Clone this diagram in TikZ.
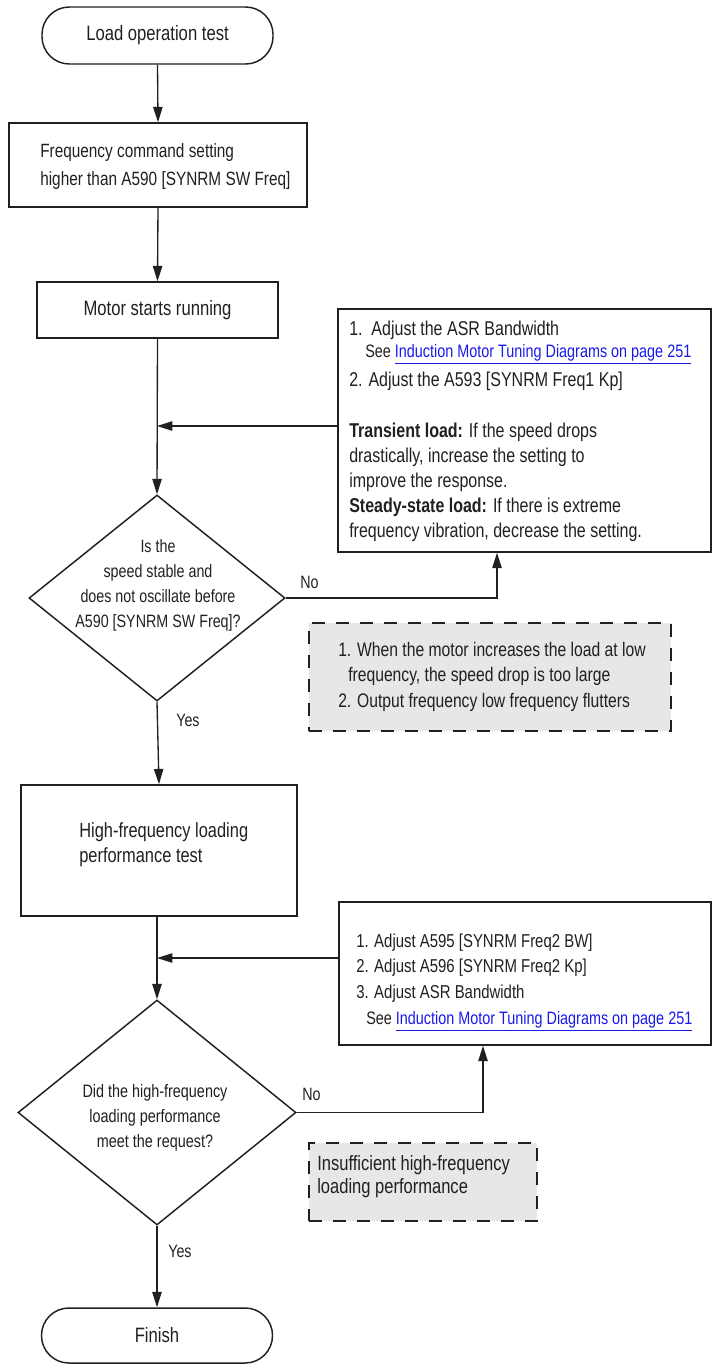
\documentclass[tikz,border=0pt]{standalone}
\usepackage{fontspec}
\setmainfont[FakeStretch=0.8]{Liberation Sans}
\usetikzlibrary{arrows.meta,shapes.geometric}
\definecolor{ink}{HTML}{231F20}
\definecolor{linkblue}{RGB}{25,25,235}
\definecolor{notegray}{HTML}{E6E7E8}
\newcommand\lnk[1]{\textcolor{linkblue}{\underline{#1}}}
\newcommand\tstrut{\rule{0pt}{12pt}}
\begin{document}
\begin{tikzpicture}[x=0.75pt,y=-0.75pt,
  base/.style={draw=ink, line width=1.1pt, inner sep=0pt, text=ink},
  term/.style={base, rectangle, rounded corners=20.5pt, font=\fontsize{15.6}{18}\selectfont},
  proc/.style={base, rectangle, font=\fontsize{15.6}{18}\selectfont},
  decision/.style={base, diamond},
  note/.style={draw=ink, fill=notegray, line width=1.1pt, dash pattern=on 10pt off 8pt, inner sep=0pt},
  txt/.style={inner sep=0pt, anchor=north west, align=left, text=ink, font=\fontsize{15}{18.75}\selectfont},
  ctxt/.style={txt, anchor=north, align=center, font=\fontsize{13.4}{18.75}\selectfont},
  small/.style={inner sep=0pt, anchor=north west, text=ink, font=\fontsize{13.5}{15}\selectfont},
  lbl/.style={inner sep=0pt, anchor=base west, text=ink, font=\fontsize{13.4}{16}\selectfont},
  conn/.style={draw=ink, line width=1pt},
  arr/.style={conn, -{Triangle[length=11.5pt,width=7pt]}},
]
\useasboundingbox (0,0) rectangle (713,1365);

% shapes
\node[term, minimum width=173.25pt, minimum height=42.75pt] (start) at (157.5,35.5) {Load operation test};
\node[proc, minimum width=223.5pt, minimum height=63pt] (freq) at (158,165) {};
\node[proc, minimum width=180.75pt, minimum height=42pt] (motor) at (157.5,310) {Motor starts running};
\node[proc, minimum width=279.75pt, minimum height=182.25pt] (adj1) at (524.5,430.5) {};
\node[decision, minimum width=192pt, minimum height=154.5pt] (dec1) at (157,598) {};
\node[note, minimum width=271.5pt, minimum height=81pt] (note1) at (490,677) {};
\node[proc, minimum width=207pt, minimum height=98.25pt] (hf) at (159,850.5) {};
\node[proc, minimum width=279pt, minimum height=107.25pt] (adj2) at (525,973.5) {};
\node[decision, minimum width=208.5pt, minimum height=168.75pt] (dec2) at (157,1112.5) {};
\node[note, minimum width=171pt, minimum height=58.5pt] (note2) at (423,1182) {};
\node[term, minimum width=173.25pt, minimum height=41.25pt] (finish) at (157,1335.5) {Finish};

% texts
\node[txt, font=\fontsize{14.4}{21}\selectfont] (freqtext) at (40,141) {\tstrut Frequency command setting\\higher than A590 [SYNRM SW Freq]};
\node[txt] (adj1a) at (349,319) {\tstrut 1.\ \ Adjust the ASR Bandwidth};
\node[small] (adj1b) at (365,341) {\tstrut See \lnk{Induction Motor Tuning Diagrams on page 251}};
\node[txt] (adj1c) at (349,370) {\tstrut 2. Adjust the A593 [SYNRM Freq1 Kp]};
\node[txt] (adj1d) at (349,421) {\tstrut\textbf{Transient load:} If the speed drops\\drastically, increase the setting to\\improve the response.\\\textbf{Steady-state load:} If there is extreme\\frequency vibration, decrease the setting.};
\node[ctxt] (dec1text) at (158,536) {\tstrut Is the\\speed stable and\\does not oscillate before\\A590 [SYNRM SW Freq]?};
\node[txt, font=\fontsize{14.7}{19.1}\selectfont] (note1text) at (338,640) {\tstrut 1. When the motor increases the load at low\\\hspace*{7.5pt}frequency, the speed drop is too large\\2. Output frequency low frequency flutters};
\node[txt, font=\fontsize{15.4}{18.75}\selectfont] (hftext) at (79,821) {\tstrut High-frequency loading\\performance test};
\node[txt, font=\fontsize{14}{19.1}\selectfont] (adj2a) at (356,931) {\tstrut 1. Adjust A595 [SYNRM Freq2 BW]\\2. Adjust A596 [SYNRM Freq2 Kp]\\3. Adjust ASR Bandwidth};
\node[small] (adj2b) at (366,1008) {\tstrut See \lnk{Induction Motor Tuning Diagrams on page 251}};
\node[ctxt, font=\fontsize{13.5}{18.75}\selectfont] (dec2text) at (155,1081) {\tstrut Did the high-frequency\\loading performance\\meet the request?};
\node[txt, font=\fontsize{15.5}{17.6}\selectfont] (note2text) at (317,1154) {\tstrut Insufficient high-frequency\\loading performance};

% junctions
\coordinate (j1) at (157,426);
\coordinate (j2) at (157,958);
\coordinate (c1) at (497,598);
\coordinate (c2) at (483,1112.5);

% connectors
\draw[arr] (start.south) -- (freq.north);
\draw[arr] (freq.south) -- (motor.north);
\draw[arr] (motor.south) -- (dec1.north);
\draw[arr] (adj1.west |- j1) -- (j1);
\draw[arr] (dec1.east) -- (c1) -- (c1 |- adj1.south);
\draw[arr] (dec1.south) -- (hf.north);
\draw[arr] (hf.south -| j2) -- (dec2.north);
\draw[arr] (adj2.west |- j2) -- (j2);
\draw[arr] (dec2.east) -- (c2) -- (c2 |- adj2.south);
\draw[arr] (dec2.south) -- (finish.north);

% labels
\node[lbl] (no1) at (300,588) {No};
\node[lbl] (yes1) at (176,726) {Yes};
\node[lbl] (no2) at (302,1100) {No};
\node[lbl] (yes2) at (168,1257) {Yes};
\end{tikzpicture}
\end{document}
